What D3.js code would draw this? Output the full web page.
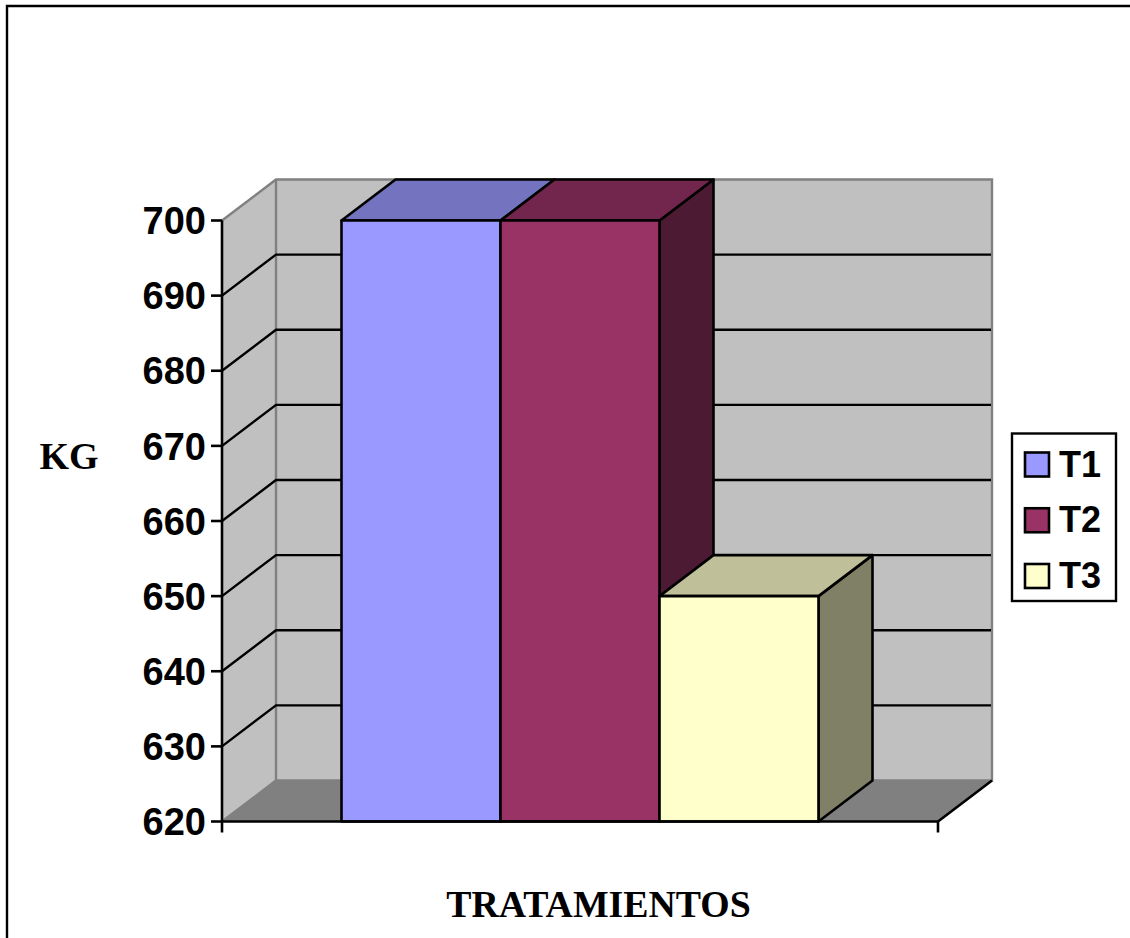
<!DOCTYPE html>
<html>
<head>
<meta charset="utf-8">
<script src="https://cdn.jsdelivr.net/npm/d3@7/dist/d3.min.js"></script>
<style>
html,body{margin:0;padding:0;background:#fff;overflow:hidden}
svg{display:block}
</style>
</head>
<body>
<svg id="chart" width="1130" height="938"></svg>
<script>
// Weight per treatment, in kg
const categories = ["T1", "T2", "T3"];
const values = [700, 700, 650];
const tickValues = [620, 630, 640, 650, 660, 670, 680, 690, 700];
const colors = ["#9999ff", "#993366", "#ffffcc"];
const topColors = ["#7373bf", "#73264d", "#bfbf99"];
const sideColors = ["#4d4d80", "#4d1a33", "#808066"];

const svg = d3.select("#chart");
const depthX = 54, depthY = -41;
const plotLeft = 222, plotRight = 938, plotTop = 220.5, plotBottom = 821.5;

const y = d3.scaleLinear().domain([620, 700]).range([plotBottom, plotTop]);
const x = d3.scaleBand().domain(categories).range([plotLeft, plotRight])
  .paddingInner(0).paddingOuter((plotRight - plotLeft - 477) / 2 / 159);

const poly = pts => "M" + pts.map(p => p.join(",")).join("L") + "Z";

// Outer frame, cut off at the bottom and right of the page
svg.append("path").attr("d", "M7,938V6H1130").attr("fill", "none")
  .attr("stroke", "#000").attr("stroke-width", 2.4);

// Walls and floor
const g = svg.append("g");
g.append("path")
  .attr("d", poly([[plotLeft, plotTop], [plotLeft + depthX, plotTop + depthY], [plotLeft + depthX, plotBottom + depthY], [plotLeft, plotBottom]]))
  .attr("fill", "#c0c0c0");
g.append("path")
  .attr("d", poly([[plotLeft + depthX, plotTop + depthY], [plotRight + depthX, plotTop + depthY], [plotRight + depthX, plotBottom + depthY], [plotLeft + depthX, plotBottom + depthY]]))
  .attr("fill", "#c0c0c0");
g.append("path")
  .attr("d", poly([[plotLeft, plotBottom], [plotLeft + depthX, plotBottom + depthY], [plotRight + depthX, plotBottom + depthY], [plotRight, plotBottom]]))
  .attr("fill", "#808080");

// Grey wall edges
g.append("path")
  .attr("d", `M${plotLeft},${plotTop}L${plotLeft + depthX},${plotTop + depthY}H${plotRight + depthX}V${plotBottom + depthY}H${plotLeft + depthX}V${plotTop + depthY}M${plotLeft},${plotBottom}L${plotLeft + depthX},${plotBottom + depthY}`)
  .attr("fill", "none").attr("stroke", "#808080").attr("stroke-width", 2.4);

// Gridlines on the back and side walls
const gridTicks = tickValues.slice(1, -1);
g.selectAll("path.grid").data(gridTicks).join("path").attr("class", "grid")
  .attr("d", v => `M${plotLeft},${y(v)}L${plotLeft + depthX},${y(v) + depthY}H${plotRight + depthX - 1}`)
  .attr("fill", "none").attr("stroke", "#000").attr("stroke-width", 2.4);

// Bars, each with a front, top and side face
const bars = svg.append("g").selectAll("g").data(categories).join("g")
  .attr("stroke", "#000").attr("stroke-width", 2.6).attr("stroke-linejoin", "round");
bars.append("path").attr("fill", (d, i) => sideColors[i])
  .attr("d", (d, i) => {
    const x1 = x(d) + x.bandwidth(), y0 = y(values[i]);
    return poly([[x1, y0], [x1 + depthX, y0 + depthY], [x1 + depthX, plotBottom + depthY], [x1, plotBottom]]);
  });
bars.append("path").attr("fill", (d, i) => topColors[i])
  .attr("d", (d, i) => {
    const x0 = x(d), x1 = x0 + x.bandwidth(), y0 = y(values[i]);
    return poly([[x0, y0], [x0 + depthX, y0 + depthY], [x1 + depthX, y0 + depthY], [x1, y0]]);
  });
bars.append("rect").attr("fill", (d, i) => colors[i])
  .attr("x", d => x(d)).attr("width", x.bandwidth())
  .attr("y", (d, i) => y(values[i])).attr("height", (d, i) => plotBottom - y(values[i]));

// Left and bottom axis lines with ticks
const axes = svg.append("g").attr("stroke", "#000").attr("stroke-width", 2.6).attr("fill", "none");
axes.append("path").attr("d", `M${plotLeft},${plotTop}V${plotBottom + 11}`);
axes.append("path").attr("d", `M${plotLeft},${plotBottom}H${plotRight}V${plotBottom + 11}M${plotRight},${plotBottom}L${plotRight + depthX},${plotBottom + depthY}`);
axes.selectAll("path.tick").data(tickValues).join("path").attr("class", "tick")
  .attr("d", v => `M${plotLeft - 11},${y(v)}H${plotLeft}`);

// Value labels
svg.append("g").selectAll("text").data(tickValues).join("text")
  .attr("x", 206).attr("y", v => y(v)).attr("dy", "0.36em")
  .attr("text-anchor", "end")
  .attr("font-family", "'Liberation Sans', Arial, sans-serif")
  .attr("font-weight", "bold").attr("font-size", 38)
  .text(d => d);

// Axis titles
svg.append("text").attr("x", 69).attr("y", 469).attr("text-anchor", "middle")
  .attr("font-family", "'Liberation Serif', 'Times New Roman', serif")
  .attr("font-weight", "bold").attr("font-size", 38).text("KG");
svg.append("text").attr("x", 598.5).attr("y", 916.5).attr("text-anchor", "middle")
  .attr("font-family", "'Liberation Serif', 'Times New Roman', serif")
  .attr("font-weight", "bold").attr("font-size", 37.8).text("TRATAMIENTOS");

// Legend
const legend = svg.append("g");
legend.append("rect").attr("x", 1012).attr("y", 433.5).attr("width", 104).attr("height", 167.5)
  .attr("fill", "#fff").attr("stroke", "#000").attr("stroke-width", 2.4);
const legendY = d3.scalePoint().domain(categories).range([464.5, 576]);
const items = legend.selectAll("g").data(categories).join("g");
items.append("rect").attr("x", 1025).attr("y", d => legendY(d) - 12)
  .attr("width", 24).attr("height", 24)
  .attr("fill", (d, i) => colors[i]).attr("stroke", "#000").attr("stroke-width", 2.6);
items.append("text").attr("x", 1059).attr("y", d => legendY(d)).attr("dy", "0.34em")
  .attr("font-family", "'Liberation Sans', Arial, sans-serif")
  .attr("font-weight", "bold").attr("font-size", 36).text(d => d);
</script>
</body>
</html>
